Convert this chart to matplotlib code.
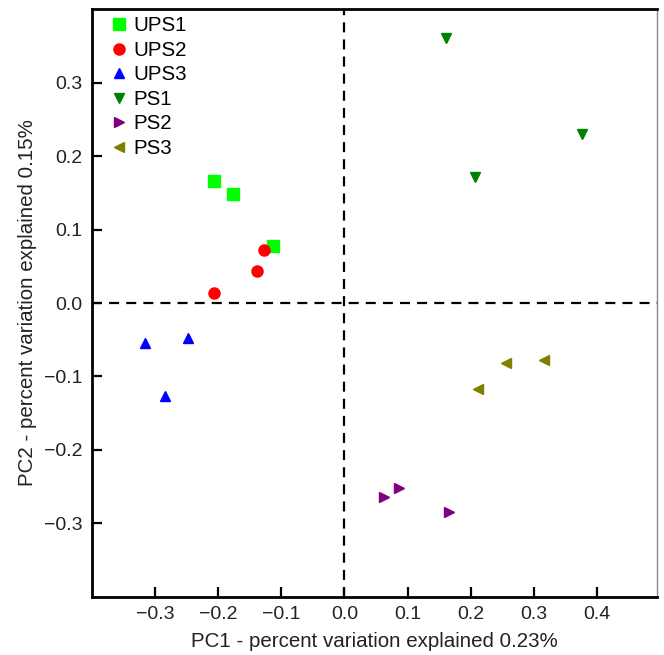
#!/usr/bin/env python
# -*- coding: utf-8 -*-

"""PCA scatter: UPS vs PS groups"""

from matplotlib import pyplot as plt

plt.rcParams['font.family'] = ['Liberation Sans', 'DejaVu Sans']

groups = ['UPS1', 'UPS2', 'UPS3', 'PS1', 'PS2', 'PS3']

pc1 = {
	'UPS1': [-0.207, -0.177, -0.113],
	'UPS2': [-0.127, -0.139, -0.207],
	'UPS3': [-0.315, -0.248, -0.284],
	'PS1': [0.160, 0.376, 0.206],
	'PS2': [0.063, 0.086, 0.165],
	'PS3': [0.255, 0.315, 0.211],
}
pc2 = {
	'UPS1': [0.166, 0.148, 0.078],
	'UPS2': [0.0725, 0.043, 0.014],
	'UPS3': [-0.055, -0.048, -0.127],
	'PS1': [0.361, 0.230, 0.171],
	'PS2': [-0.264, -0.252, -0.284],
	'PS3': [-0.082, -0.078, -0.117],
}

estilos = {
	'UPS1': ('s', 'lime', 8),
	'UPS2': ('o', 'red', 8),
	'UPS3': ('^', 'blue', 7.5),
	'PS1': ('v', 'green', 7.5),
	'PS2': ('>', 'purple', 7.5),
	'PS3': ('<', 'olive', 7.5),
}

fig = plt.figure(figsize=(6.64, 6.55), dpi=100)
ax = fig.add_axes([0.138, 0.089, 0.851, 0.8968])

for g in groups:
	m, c, s = estilos[g]
	ax.plot(pc1[g], pc2[g], linestyle='none', marker=m, color=c, markersize=s, label=g)

ax.axhline(0, color='black', lw=1.6, dashes=(4.5, 3.2), zorder=0)
ax.axvline(0, color='black', lw=1.6, dashes=(4.5, 3.2), zorder=0)

ax.set_xlim(-0.4, 0.494)
ax.set_ylim(-0.4, 0.4)
ax.set_xticks([-0.3, -0.2, -0.1, 0.0, 0.1, 0.2, 0.3, 0.4])
ax.set_yticks([-0.3, -0.2, -0.1, 0.0, 0.1, 0.2, 0.3])
ax.xaxis.set_major_formatter(plt.FuncFormatter(lambda v, p: f'{v:.1f}'.replace('-', '\u2212')))
ax.yaxis.set_major_formatter(plt.FuncFormatter(lambda v, p: f'{v:.1f}'.replace('-', '\u2212')))
ax.tick_params(direction='in', length=7, width=1.6, labelsize=14, pad=6.5, colors='black')
ax.tick_params(axis='both', labelcolor='#222222')

for lado in ('left', 'bottom', 'top'):
	ax.spines[lado].set_linewidth(2)
ax.spines['right'].set_linewidth(1)
ax.spines['right'].set_color('#888888')

ax.set_xlabel('PC1 - percent variation explained 0.23%', fontsize=14.8, color='#222222', labelpad=7)
ax.set_ylabel('PC2 - percent variation explained 0.15%', fontsize=14.8, color='#222222', labelpad=5)

ax.legend(loc='upper left', frameon=False, fontsize=14.7, handlelength=1.0, handletextpad=0.22,
		  labelspacing=0.27, borderaxespad=0.0, bbox_to_anchor=(0.016, 1.002))

plt.savefig('out.png', dpi=100)
